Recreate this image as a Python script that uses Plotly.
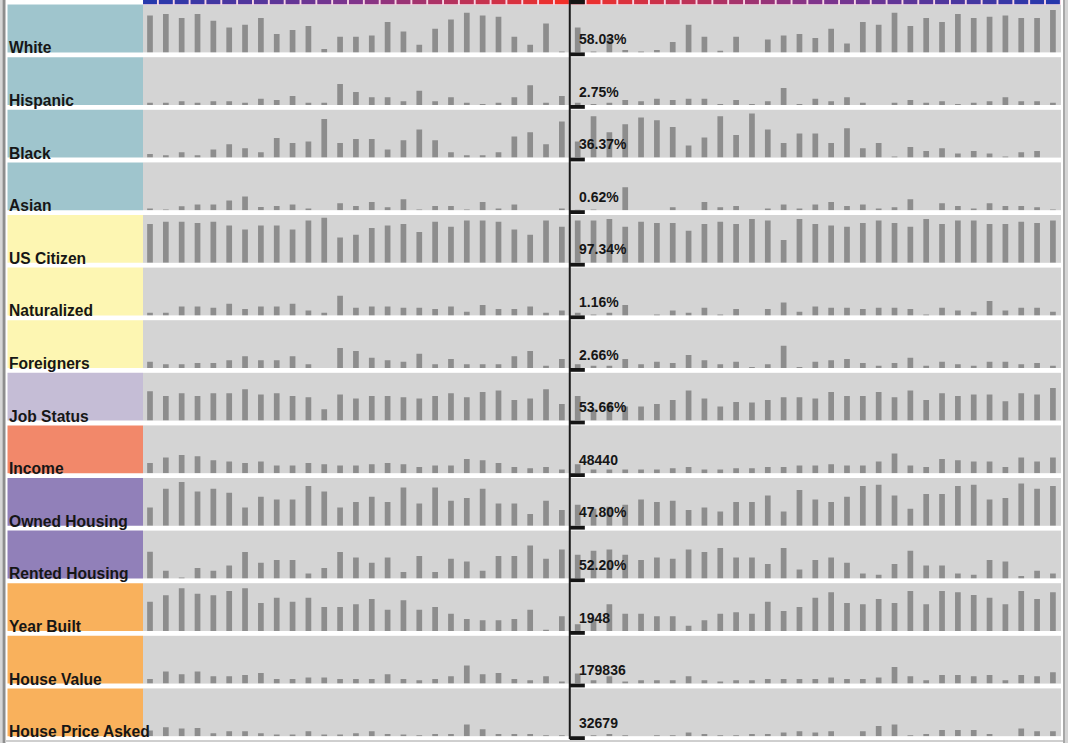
import plotly.graph_objects as go

W, H = 1068, 743
N_COLS = 58
columns = list(range(N_COLS))

row_labels = ["White", "Hispanic", "Black", "Asian", "US Citizen", "Naturalized",
              "Foreigners", "Job Status", "Income", "Owned Housing", "Rented Housing",
              "Year Built", "House Value", "House Price Asked"]
row_value_text = ["58.03%", "2.75%", "36.37%", "0.62%", "97.34%", "1.16%", "2.66%",
                  "53.66%", "48440", "47.80%", "52.20%", "1948", "179836", "32679"]
row_colors = ["#9fc5cd", "#9fc5cd", "#9fc5cd", "#9fc5cd",
              "#fdf6b2", "#fdf6b2", "#fdf6b2",
              "#c5bdd6", "#f2886a", "#9180b9", "#9180b9",
              "#f9b15c", "#f9b15c", "#f9b15c"]

white = [37, 38.3, 34.3, 38.3, 31.7, 25, 27.7, 34.3, 18.3, 22.3, 26.3, 3.3, 15.7, 15.7, 17, 30.3,
         21, 7.7, 23.7, 33, 39.7, 37, 35.7, 15.7, 7.7, 29, 1, 25, 1, 15, 2.3, 1, 2.3, 10.3, 27.7,
         15.7, 1.7, 15.7, 0, 13, 17, 18.3, 14.3, 23.7, 9, 30.3, 27.7, 39.7, 26.3, 34.3, 30.3, 38.3,
         34.3, 35.7, 37, 34.3, 34.3, 42.3]
hispanic = [2.3, 2.3, 3.7, 2.3, 3.7, 3.7, 2.3, 6.3, 5, 9, 2.3, 2.3, 21, 13, 7.7, 7.7, 3.7, 14.3,
            3.7, 7.7, 2.3, 1, 2.3, 7.7, 19.7, 2.3, 9, 2.3, 1, 2.3, 5, 3.7, 6.3, 5, 6.3, 6.3, 1, 5,
            1, 3.7, 17, 1, 6.3, 3.7, 7.7, 2.3, 0, 2.3, 5, 2.3, 3.7, 1, 2.3, 3.7, 7.7, 3.7, 3.7, 2.3]
black = [3.7, 2.3, 5.3, 2.3, 8, 13.3, 9.3, 5.3, 19.7, 14.7, 16, 38.7, 14.7, 18.7, 18.7, 8, 17.3,
         28, 17.3, 5.3, 2.3, 2.3, 5.3, 21, 25.3, 13.3, 36, 16, 41.3, 25.3, 33.3, 40, 37.3, 30.7,
         12, 20, 41.3, 22.7, 44, 28, 14.7, 24, 24, 14.7, 29.3, 9.3, 14.7, 1, 10.7, 6.7, 9.3, 4,
         6.7, 4, 1, 5.3, 6.7, 0]
asian = [1.7, 0.7, 4, 5.7, 5.7, 9.7, 13.7, 3.3, 4.3, 5.7, 1.7, 0, 7, 4.3, 8.3, 3, 11, 0.7, 4.3,
         4.3, 0.7, 8.3, 1.7, 5.7, 0, 0, 1.7, 0.5, 0.7, 0, 23, 0, 0, 3, 0, 8.3, 3, 4.3, 0, 1.7, 5.7,
         1.7, 5.7, 8.3, 4.3, 5.7, 1.7, 3, 11, 0, 7, 4.3, 1.7, 7, 4.3, 4.3, 3, 0.7]
us_citizen = [38.7, 41, 41, 39.7, 41, 37.3, 33.3, 37.3, 37.3, 33.3, 42.3, 45, 25.3, 28, 34.7,
              37.3, 38.7, 30.7, 41, 36, 42.3, 42.3, 41, 33.3, 28, 42.3, 36, 42.3, 42.3, 43.7, 36,
              41, 39.7, 39.7, 32, 38.7, 41, 38.7, 43.7, 42.3, 22.7, 43.7, 38.7, 37.3, 36, 39.7,
              42.3, 39.7, 36, 43.7, 38.7, 42.3, 42.3, 38.7, 38.7, 41, 39.7, 42.3]
naturalized = [2.7, 2.7, 9, 9, 7.7, 11.7, 6.3, 9, 9, 11.7, 5, 2.7, 19.7, 7.7, 9, 9, 7.7, 7.7,
               6.3, 9, 3.7, 10.3, 6.3, 6.3, 9, 2.7, 5, 2.7, 1, 2.7, 10.3, 0, 1, 5, 2.7, 7.7, 1,
               6.3, 0, 6.3, 13, 3.7, 9, 7.7, 7.7, 6.3, 7.7, 7.7, 6.3, 1, 7.7, 5, 3.7, 14.3, 5,
               7.7, 7.7, 3.7]
foreigners = [6.3, 3.7, 3.7, 5, 5, 7.7, 11.7, 7.7, 7.7, 11.7, 3.7, 0, 20, 17, 10.3, 7.7, 6.3,
              14.3, 3.7, 9, 3.7, 3.7, 3.7, 11.7, 17, 2.3, 9, 3.7, 2.3, 2.3, 9, 3.7, 6.3, 5, 13,
              7.7, 3.7, 6.3, 1, 3.7, 22.3, 1, 6.3, 7.7, 9, 5, 2.3, 5, 10.3, 2.3, 6.3, 3.7, 2.3,
              6.3, 6.3, 3.7, 5, 2.3]
job_status = [29.3, 24.7, 27.3, 24.7, 27.3, 27.3, 31.3, 26, 27.3, 24.7, 23.3, 11.3, 26, 22,
              24.7, 24.7, 23.3, 22, 24.7, 27.3, 23.3, 28.7, 30, 20.7, 22, 31.3, 16.7, 24.7, 11.3,
              16.7, 14, 14, 16.7, 20.7, 30, 22, 14, 18.7, 18, 20.7, 23.3, 23.3, 22, 28.7, 24.7,
              24.7, 28.7, 23.3, 30, 20.7, 27.3, 24.7, 26, 26, 19.3, 27.3, 26, 32.7]
income = [10.3, 15.7, 18.3, 17, 13, 11.7, 10.3, 11.7, 7.7, 7.7, 10.3, 9, 7.7, 7.7, 9, 10.3, 9,
          6.3, 7.7, 7.7, 14.3, 13, 10.3, 6.3, 5, 6.3, 3.7, 9, 3.7, 3.7, 3.7, 3.7, 3.7, 5, 6.3,
          3.7, 3.7, 5, 5, 6.3, 6.3, 7.7, 7.7, 9, 7.7, 7.7, 11.7, 19.7, 7.7, 6.3, 14.3, 13, 11.7,
          11.7, 6.3, 15.7, 11.7, 15.7]
owned_housing = [18.3, 37, 43.7, 34.3, 37, 33, 18.3, 29, 26.3, 26.3, 39.7, 34.3, 18.3, 23.7, 29,
                 23.7, 38.3, 22.3, 38.3, 25, 27.7, 37, 22.3, 22.3, 11.7, 25, 15.7, 21, 17, 19,
                 21, 26.3, 23.7, 25, 15.7, 18.3, 14.3, 23.7, 23.7, 30.3, 14.3, 35.7, 26.3, 23.7,
                 29, 39.7, 41, 30.3, 17, 31.7, 31.7, 39.7, 41, 26.3, 27.7, 42.3, 37, 39.7]
rented_housing = [26.7, 7.7, 1, 10.3, 7.7, 13, 26.3, 15.7, 18.3, 18.3, 5, 10.3, 26.3, 21, 15.7,
                  21, 6.3, 22.3, 6.3, 19.7, 17, 7.7, 22.3, 22.3, 33, 19.7, 29, 23.7, 27.7, 29,
                  23.7, 18.3, 21, 19.7, 29, 26.3, 30.3, 21, 21, 14.3, 30.3, 9, 18.3, 21, 15.7, 5,
                  3.7, 14.3, 27.7, 13, 13, 5, 3.7, 18.3, 17, 2.3, 7.7, 5]
year_built = [29.3, 35.7, 42.7, 37.3, 35.7, 40, 42.7, 28, 33.3, 29.3, 33.3, 24, 24, 26.7, 32,
              21.3, 30.7, 21.3, 24, 17.3, 12, 10.7, 10.7, 12, 21.3, 1.3, 14.7, 6.7, 11.7, 26.7,
              17.3, 17.3, 14.7, 14.7, 5.3, 10.7, 17.3, 18.7, 17.3, 29.3, 20, 24, 33.3, 38.7, 28,
              26.7, 32, 28, 40, 26.7, 40, 38.7, 36, 33.3, 26.7, 40, 32, 38.7]
house_value = [4.7, 12, 9.3, 12, 7.3, 7.3, 8.7, 10.7, 4.7, 4.7, 6, 6, 4.7, 4.7, 4.7, 9.3, 4.7,
               3.3, 4.7, 7.3, 18, 9.3, 10.7, 4.7, 3.3, 7.3, 2, 10, 3.3, 7.3, 2, 3.3, 3.3, 3.3,
               7.3, 3.3, 2, 3.3, 3.3, 4.7, 4.7, 4.7, 4.7, 6, 4.7, 4.7, 6, 16.7, 7.3, 3.3, 8.7,
               8.7, 7.3, 8.7, 3.3, 8.7, 7.3, 11.3]
house_price_asked = [5.7, 9, 7.7, 8.3, 3, 5, 5, 3, 1.7, 1.7, 5, 1.7, 1.7, 3, 5, 2.3, 1.7, 1,
                     2.3, 2.3, 11.7, 7, 2.3, 2.3, 2.3, 1, 1, 0, 1, 2.3, 1, 0, 1, 1, 3.7, 2.3, 1,
                     1, 2.3, 2.3, 3.7, 5, 3.7, 5, 0, 5, 10.3, 11.7, 1, 2.3, 6.3, 6.3, 6.3, 2.3, 0,
                     7.7, 5, 5]

rows = [white, hispanic, black, asian, us_citizen, naturalized, foreigners, job_status,
        income, owned_housing, rented_housing, year_built, house_value, house_price_asked]

SPLIT = 26.5          # divider between column 26 and 27
PITCH = 52.6
TOP0 = 4.6
PANEL_H = 47.8
BAR_COLOR = "#8d8d8d"
TEXT_COLOR = "#161616"
FONT = "Liberation Sans, Arial, Helvetica, sans-serif"


def mix(c1, c2, t):
    return tuple(round(a + (b - a) * t) for a, b in zip(c1, c2))


BLUE = (38, 56, 172)
PURPLE = (128, 52, 140)
RED = (242, 48, 40)


def strip_color(i):
    if i <= SPLIT:
        t = i / 26.0
    else:
        t = (57 - i) / 30.0
    if t < 0.5:
        c = mix(BLUE, PURPLE, t / 0.5)
    else:
        c = mix(PURPLE, RED, (t - 0.5) / 0.5)
    return "rgb(%d,%d,%d)" % c


fig = go.Figure()
layout_axes = {}
shapes = []
annotations = []

for r, vals in enumerate(rows):
    top = TOP0 + r * PITCH
    bot = top + PANEL_H
    sfx = "" if r == 0 else str(r + 1)
    xid, yid = "x" + sfx, "y" + sfx
    layout_axes["xaxis" + sfx] = dict(domain=[143 / W, 1061 / W], range=[-0.442, 57.51],
                                      visible=False, fixedrange=True, anchor=yid)
    layout_axes["yaxis" + sfx] = dict(domain=[1 - bot / H, 1 - top / H], range=[0, PANEL_H],
                                      visible=False, fixedrange=True, anchor=xid)
    fig.add_trace(go.Bar(x=columns, y=vals, xaxis=xid, yaxis=yid, width=0.36,
                         marker=dict(color=BAR_COLOR, line=dict(width=0)),
                         hoverinfo="skip", showlegend=False))
    # label cell
    shapes.append(dict(type="rect", xref="paper", yref=yid + " domain",
                       x0=7.5 / W, x1=143 / W, y0=0, y1=1,
                       fillcolor=row_colors[r], line=dict(width=0), layer="below"))
    # slider marker under the divider
    shapes.append(dict(type="rect", xref=xid, yref=yid + " domain",
                       x0=SPLIT, x1=SPLIT + 0.95, y0=-3.8 / PANEL_H, y1=0,
                       fillcolor="#151515", line=dict(width=0), layer="above"))
    annotations.append(dict(text="<b>%s</b>" % row_labels[r], xref="paper", yref=yid + " domain",
                            x=7 / W, y=0, xanchor="left", yanchor="bottom", yshift=-6,
                            showarrow=False, font=dict(family=FONT, size=15.6, color=TEXT_COLOR)))
    annotations.append(dict(text="<b>%s</b>" % row_value_text[r], xref="paper",
                            yref=yid + " domain", x=577 / W, y=8 / PANEL_H,
                            xanchor="left", yanchor="bottom", yshift=-4.5, showarrow=False,
                            font=dict(family=FONT, size=14, color=TEXT_COLOR)))

# top colour strip
shapes.append(dict(type="rect", xref="x", yref="paper", x0=-0.5, x1=57.5,
                   y0=1 - 5 / H, y1=1, fillcolor="#f6d6e4", line=dict(width=0), layer="above"))
for i in columns:
    shapes.append(dict(type="rect", xref="x", yref="paper", x0=i - 0.44, x1=i + 0.44,
                       y0=1 - 4.2 / H, y1=1, fillcolor=strip_color(i),
                       line=dict(width=0), layer="above"))
shapes.append(dict(type="rect", xref="x", yref="paper", x0=SPLIT, x1=SPLIT + 0.95,
                   y0=1 - 4.2 / H, y1=1, fillcolor="#151515", line=dict(width=0), layer="above"))
# divider line
shapes.append(dict(type="line", xref="x", yref="paper", x0=SPLIT, x1=SPLIT,
                   y0=1 - 739 / H, y1=1, line=dict(color="#1a1a1a", width=2), layer="above"))
# window frame
shapes.append(dict(type="rect", xref="paper", yref="paper", x0=0, x1=2.5 / W, y0=0, y1=1,
                   fillcolor="#d6d6d6", line=dict(width=0), layer="above"))
shapes.append(dict(type="rect", xref="paper", yref="paper", x0=2.5 / W, x1=5.5 / W, y0=0, y1=1,
                   fillcolor="#8e8e8e", line=dict(width=0), layer="above"))
shapes.append(dict(type="rect", xref="paper", yref="paper", x0=1063 / W, x1=1065 / W, y0=0, y1=1,
                   fillcolor="#a8a8a8", line=dict(width=0), layer="above"))
shapes.append(dict(type="rect", xref="paper", yref="paper", x0=1065 / W, x1=1, y0=0, y1=1,
                   fillcolor="#d4d4d4", line=dict(width=0), layer="above"))
shapes.append(dict(type="rect", xref="paper", yref="paper", x0=5.5 / W, x1=1063 / W,
                   y0=1 - 742 / H, y1=1 - 740 / H,
                   fillcolor="#cfcfcf", line=dict(width=0), layer="above"))

fig.update_layout(width=W, height=H, margin=dict(l=0, r=0, t=0, b=0, pad=0),
                  paper_bgcolor="white", plot_bgcolor="#d4d4d4",
                  shapes=shapes, annotations=annotations, showlegend=False,
                  **layout_axes)

fig.write_html("out.html", config={"displayModeBar": False, "staticPlot": True})
